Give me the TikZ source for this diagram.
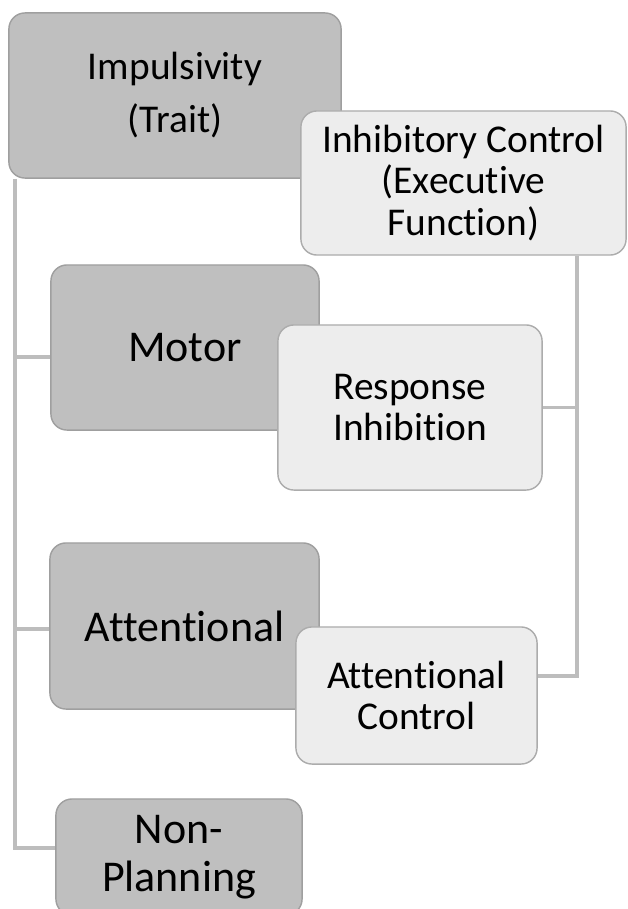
\documentclass[tikz,border=0pt]{standalone}
\usepackage{fontspec}
\setmainfont{Carlito}[Ligatures={NoCommon}]
\usetikzlibrary{positioning}

\definecolor{traitgray}{HTML}{BFBFBF}
\definecolor{efgray}{HTML}{EDEDED}
\definecolor{linkgray}{HTML}{BDBDBD}

\begin{document}
\begin{tikzpicture}[x=0.01cm, y=-0.01cm]
    \tikzset{
        traitbox/.style={draw=gray!75, line width=0.4pt, fill=traitgray, rounded corners=0.16cm,
            align=center, inner sep=0pt, font=\fontsize{12.5}{13.7}\selectfont},
        efbox/.style={draw=gray!65, line width=0.4pt, fill=efgray, rounded corners=0.16cm,
            align=center, inner sep=0pt, font=\fontsize{11.2}{11.9}\selectfont},
        link/.style={linkgray, line width=1pt}
    }

    \clip (0,0) rectangle (627,909);
    \fill[white] (0,0) rectangle (627,909);

    % trait side
    \node[traitbox, minimum width=3.32cm, minimum height=1.65cm,
          font=\fontsize{11.2}{15.1}\selectfont] (imp) at (175,95.5) {Impulsivity\\(Trait)};
    \node[efbox, minimum width=3.25cm, minimum height=1.44cm] (inh) at (463.5,183)
        {Inhibitory Control\\(Executive\\Function)};

    \node[traitbox, minimum width=2.68cm, minimum height=1.65cm] (motor) at (185,347.5) {Motor};
    \node[efbox, minimum width=2.64cm, minimum height=1.65cm] (resp) at (410,407.5)
        {Response\\Inhibition};

    \node[traitbox, minimum width=2.69cm, minimum height=1.66cm] (att) at (184.5,626) {Attentional};
    \node[efbox, minimum width=2.41cm, minimum height=1.37cm] (attc) at (416.5,695.5)
        {Attentional\\Control};

    \node[traitbox, minimum width=2.46cm, minimum height=1.16cm] (nonp) at (179,857) {Non-\\Planning};

    % connectors
    \coordinate (lspine) at (15,0);
    \coordinate (rspine) at (577,0);

    \draw[link] (imp.south -| lspine) |- ([yshift=0.09cm]nonp.west);
    \draw[link] ([yshift=-0.095cm]motor.west) -- ([yshift=-0.095cm]motor.west -| lspine);
    \draw[link] ([yshift=-0.03cm]att.west) -- ([yshift=-0.03cm]att.west -| lspine);

    \draw[link] (inh.south -| rspine) |- ([yshift=0.195cm]attc.east);
    \draw[link] (resp.east) -- (resp.east -| rspine);

\end{tikzpicture}
\end{document}
